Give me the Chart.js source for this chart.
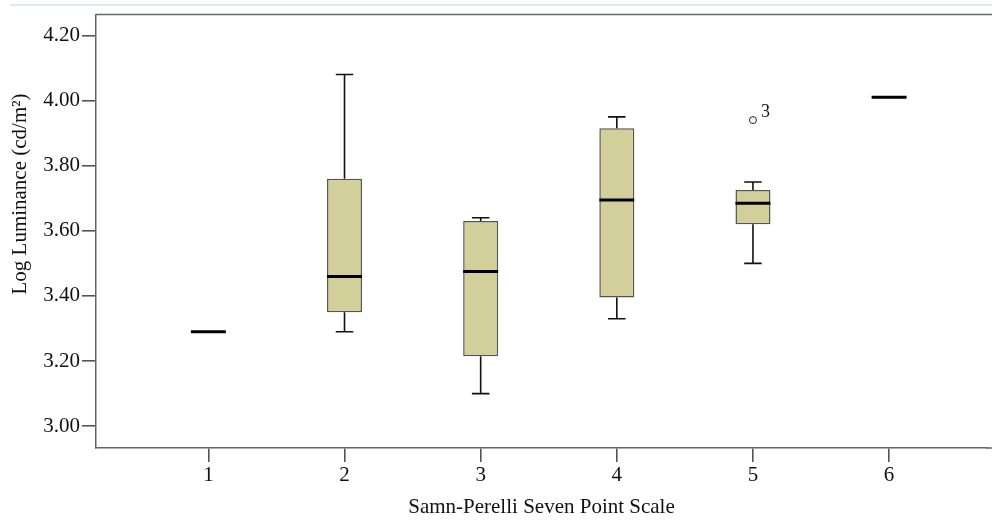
<!DOCTYPE html>
<html>
<head>
<meta charset="utf-8">
<script src="https://cdn.jsdelivr.net/npm/chart.js@4/dist/chart.umd.min.js"></script>
<style>
  html, body { margin: 0; padding: 0; background: #ffffff; }
  #wrap { width: 992px; height: 523px; position: relative; }
</style>
</head>
<body>
<div id="wrap"><canvas id="c" width="992" height="523"></canvas></div>
<script>
// ---- data ----
const categories = [1, 2, 3, 4, 5, 6];
const mins    = [3.29, 3.29, 3.10, 3.33, 3.50, 4.01];
const q1s     = [3.29, 3.35, 3.215, 3.395, 3.62, 4.01];
const medians = [3.29, 3.46, 3.475, 3.695, 3.685, 4.01];
const q3s     = [3.29, 3.76, 3.63, 3.915, 3.725, 4.01];
const maxs    = [3.29, 4.08, 3.64, 3.95, 3.75, 4.01];
const outlierX = [5];
const outlierY = [3.94];
const outlierLabels = ['3'];
const yTicks = [3.00, 3.20, 3.40, 3.60, 3.80, 4.00, 4.20];
const xTitle = 'Samn-Perelli Seven Point Scale';
const yTitle = 'Log Luminance (cd/m\u00B2)';

const SERIF = '"Liberation Serif", "DejaVu Serif", serif';
const BOX_FRAC = 0.257;

const boxData = categories.map((c, i) =>
  (q3s[i] > q1s[i]) ? { x: c, y: [q1s[i], q3s[i]] } : null
).filter(d => d !== null);

const boxPlugin = {
  id: 'boxExtras',
  afterDatasetsDraw(chart) {
    const ctx = chart.ctx;
    const xs = chart.scales.x, ys = chart.scales.y;
    ctx.save();
    categories.forEach((c, i) => {
      const cx = xs.getPixelForValue(c);
      const half = (xs.getPixelForValue(c + BOX_FRAC / 2) - xs.getPixelForValue(c - BOX_FRAC / 2)) / 2;
      const cap = half / 2;
      ctx.strokeStyle = '#111';
      ctx.lineWidth = 1.6;
      if (maxs[i] > q3s[i]) {
        ctx.beginPath();
        ctx.moveTo(cx, ys.getPixelForValue(q3s[i]));
        ctx.lineTo(cx, ys.getPixelForValue(maxs[i]));
        ctx.moveTo(cx - cap, ys.getPixelForValue(maxs[i]));
        ctx.lineTo(cx + cap, ys.getPixelForValue(maxs[i]));
        ctx.stroke();
      }
      if (mins[i] < q1s[i]) {
        ctx.beginPath();
        ctx.moveTo(cx, ys.getPixelForValue(q1s[i]));
        ctx.lineTo(cx, ys.getPixelForValue(mins[i]));
        ctx.moveTo(cx - cap, ys.getPixelForValue(mins[i]));
        ctx.lineTo(cx + cap, ys.getPixelForValue(mins[i]));
        ctx.stroke();
      }
      ctx.lineWidth = 3;
      ctx.strokeStyle = '#000';
      ctx.beginPath();
      ctx.moveTo(cx - half, ys.getPixelForValue(medians[i]));
      ctx.lineTo(cx + half, ys.getPixelForValue(medians[i]));
      ctx.stroke();
    });
    // outlier labels
    ctx.fillStyle = '#111';
    ctx.font = '18px ' + SERIF;
    ctx.textAlign = 'left';
    ctx.textBaseline = 'middle';
    outlierX.forEach((x, i) => {
      ctx.fillText(outlierLabels[i], xs.getPixelForValue(x) + 8, ys.getPixelForValue(outlierY[i]) - 8);
    });
    ctx.restore();
  },
  afterDraw(chart) {
    const ctx = chart.ctx;
    const a = chart.chartArea;
    ctx.save();
    // top frame line and bottom axis continuation to the edge
    ctx.strokeStyle = '#666';
    ctx.lineWidth = 1.5;
    ctx.beginPath();
    ctx.moveTo(a.left, a.top);
    ctx.lineTo(chart.width, a.top);
    ctx.moveTo(a.right - 1, a.bottom);
    ctx.lineTo(chart.width, a.bottom);
    ctx.stroke();
    // faint line at very top
    ctx.strokeStyle = '#e4e9f0';
    ctx.lineWidth = 2;
    ctx.beginPath();
    ctx.moveTo(10, 5);
    ctx.lineTo(chart.width, 5);
    ctx.stroke();
    // y title
    ctx.fillStyle = '#111';
    ctx.font = '21px ' + SERIF;
    ctx.textAlign = 'center';
    ctx.textBaseline = 'middle';
    ctx.translate(20, 194);
    ctx.rotate(-Math.PI / 2);
    ctx.fillText(yTitle, 0, 0);
    ctx.restore();
  }
};

new Chart(document.getElementById('c'), {
  type: 'bar',
  data: {
    datasets: [
      {
        type: 'bar',
        data: boxData,
        backgroundColor: '#d3cf9b',
        borderColor: '#55554c',
        borderWidth: 1.5,
        borderSkipped: false,
        categoryPercentage: 1,
        barPercentage: BOX_FRAC
      },
      {
        type: 'scatter',
        data: outlierX.map((x, i) => ({ x: x, y: outlierY[i] })),
        pointStyle: 'circle',
        pointRadius: 3.5,
        pointBackgroundColor: '#ffffff',
        pointBorderColor: '#222',
        pointBorderWidth: 1
      }
    ]
  },
  options: {
    responsive: false,
    animation: false,
    devicePixelRatio: 1,
    layout: { padding: { top: 12, right: 0, left: 0, bottom: 0 } },
    plugins: { legend: { display: false }, tooltip: { enabled: false } },
    scales: {
      x: {
        type: 'linear',
        offset: false,
        min: 0.1746,
        max: 6.719,
        afterFit(scale) { scale.height = 75; scale.paddingRight = 0; },
        afterBuildTicks(scale) { scale.ticks = categories.map(v => ({ value: v })); },
        grid: { display: true, offset: false, drawOnChartArea: false, drawTicks: true, tickLength: 14, color: '#555', lineWidth: 1.6 },
        border: { display: true, color: '#666', width: 1.5 },
        ticks: { font: { family: SERIF, size: 21 }, color: '#111', padding: 1, callback: v => String(v) },
        title: { display: true, text: xTitle, font: { family: SERIF, size: 21 }, color: '#111', padding: { top: 2, bottom: 3 } }
      },
      y: {
        type: 'linear',
        min: 2.933,
        max: 4.264,
        afterFit(scale) { scale.width = 96; },
        afterBuildTicks(scale) { scale.ticks = yTicks.map(v => ({ value: v })); },
        grid: { display: true, drawOnChartArea: false, drawTicks: true, tickLength: 14, color: '#555', lineWidth: 1.6 },
        border: { display: true, color: '#666', width: 1.5 },
        ticks: { font: { family: SERIF, size: 21 }, color: '#111', padding: 2, callback: v => Number(v).toFixed(2) }
      }
    }
  },
  plugins: [boxPlugin]
});
</script>
</body>
</html>
